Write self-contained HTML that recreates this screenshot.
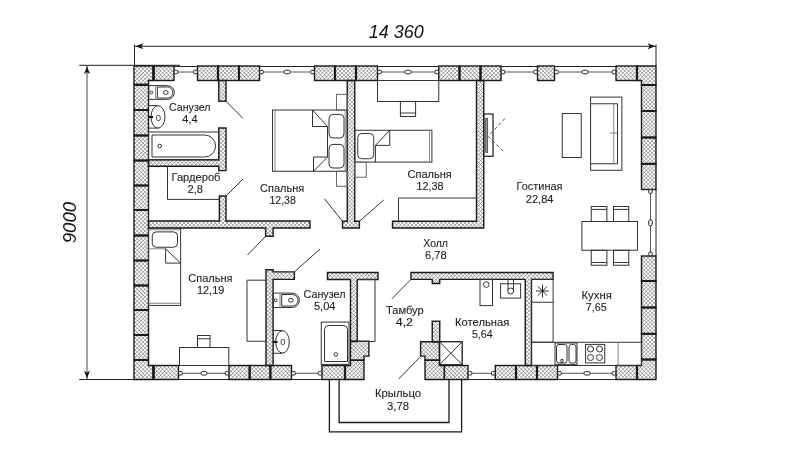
<!DOCTYPE html>
<html><head><meta charset="utf-8"><style>
html,body{margin:0;padding:0;background:#fff;}
svg{display:block;will-change:transform;}
.w{fill:none;stroke:#1a1a1a;stroke-width:1.4;stroke-linejoin:miter;}
.sep{fill:none;stroke:#1a1a1a;stroke-width:2.2;}
.f{fill:none;stroke:#333;stroke-width:1.0;}
.fn{fill:none;stroke:#666;stroke-width:1;}
.fg{fill:none;stroke:#777;stroke-width:0.9;}
.p{fill:none;stroke:#1a1a1a;stroke-width:1.3;}
.d{fill:none;stroke:#222;stroke-width:1;}
.dv{fill:none;stroke:#666;stroke-width:1.2;}
.dl{fill:none;stroke:#333;stroke-width:1;}
.wl{fill:none;stroke:#222;stroke-width:1;}
.wm{fill:none;stroke:#555;stroke-width:1;}
.wf{fill:#fff;stroke:#222;stroke-width:1;}
.ar{fill:#111;stroke:none;}
.bx{fill:none;stroke:#1a1a1a;stroke-width:1.3;}
.tv{fill:#999;stroke:#333;stroke-width:0.7;}
.bx2{fill:none;stroke:#1a1a1a;stroke-width:1.2;}
.dash{fill:none;stroke:#444;stroke-width:0.9;stroke-dasharray:3.5,2.5;}
.t{font-family:"Liberation Sans",sans-serif;font-size:10px;fill:#1e1e1e;stroke:#1e1e1e;stroke-width:0.1;}
.s{font-family:"Liberation Sans",sans-serif;font-size:9.5px;fill:#333;text-anchor:middle;}
.dim{font-family:"Liberation Sans",sans-serif;font-style:italic;font-size:18.5px;fill:#111;}
</style></head><body>
<svg width="800" height="450" viewBox="0 0 800 450">
<rect x="0" y="0" width="800" height="450" fill="#fff"/>
<clipPath id="wc"><rect x="154" y="66" width="20" height="14.5"/>
<rect x="197.5" y="66" width="20.5" height="14.5"/>
<rect x="218" y="66" width="21" height="14.5"/>
<rect x="239" y="66" width="20.5" height="14.5"/>
<rect x="314.5" y="66" width="20.5" height="14.5"/>
<rect x="335" y="66" width="21" height="14.5"/>
<rect x="356" y="66" width="21.5" height="14.5"/>
<rect x="438.75" y="66" width="20.75" height="14.5"/>
<rect x="459.5" y="66" width="21.0" height="14.5"/>
<rect x="480.5" y="66" width="20.5" height="14.5"/>
<rect x="537.5" y="66" width="17.0" height="14.5"/>
<rect x="616" y="66" width="21" height="14.5"/>
<polygon points="134,66 153,66 153,80.5 148.5,80.5 148.5,84.5 134,84.5"/>
<polygon points="637,66 656,66 656,85 641.5,85 641.5,80.5 637,80.5"/>
<polygon points="134,360 148.5,360 148.5,365.5 153,365.5 153,379.5 134,379.5"/>
<polygon points="641.5,359.5 656,359.5 656,379.5 637,379.5 637,365.5 641.5,365.5"/>
<rect x="134" y="85" width="14.5" height="25"/>
<rect x="134" y="110" width="14.5" height="25.5"/>
<rect x="134" y="135.5" width="14.5" height="25.0"/>
<rect x="134" y="160.5" width="14.5" height="25.0"/>
<rect x="134" y="185.5" width="14.5" height="24.5"/>
<rect x="134" y="210" width="14.5" height="25.5"/>
<rect x="134" y="235.5" width="14.5" height="25.0"/>
<rect x="134" y="260.5" width="14.5" height="25.0"/>
<rect x="134" y="285.5" width="14.5" height="24.5"/>
<rect x="134" y="310" width="14.5" height="25"/>
<rect x="134" y="335" width="14.5" height="25"/>
<rect x="641.5" y="85" width="14.5" height="26"/>
<rect x="641.5" y="111" width="14.5" height="26.5"/>
<rect x="641.5" y="137.5" width="14.5" height="26.25"/>
<rect x="641.5" y="163.75" width="14.5" height="25.75"/>
<rect x="641.5" y="256" width="14.5" height="25"/>
<rect x="641.5" y="281" width="14.5" height="26.5"/>
<rect x="641.5" y="307.5" width="14.5" height="26.25"/>
<rect x="641.5" y="333.75" width="14.5" height="25.75"/>
<rect x="154" y="365.5" width="24.5" height="14.0"/>
<rect x="229" y="365.5" width="20.6" height="14.0"/>
<rect x="249.6" y="365.5" width="20.8" height="14.0"/>
<rect x="270.4" y="365.5" width="21.1" height="14.0"/>
<rect x="322" y="365.5" width="23" height="14.0"/>
<rect x="495.3" y="365.5" width="20.7" height="14.0"/>
<rect x="516" y="365.5" width="21" height="14.0"/>
<rect x="537" y="365.5" width="20.5" height="14.0"/>
<rect x="616" y="365.5" width="21" height="14.0"/>
<rect x="218.75" y="80.5" width="7.25" height="20.75"/>
<polygon points="218.75,128 226,128 226,170.6 218.75,170.6 218.75,166.25 148.5,166.25 148.5,159.75 218.75,159.75"/>
<polygon points="148.5,221 219.4,221 219.4,196 226,196 226,221 310,221 310,228 273.1,228 273.1,236.25 265.6,236.25 265.6,228 148.5,228"/>
<polygon points="347.25,80.5 354.75,80.5 354.75,221.25 359.4,221.25 359.4,228 342.5,228 342.5,221.25 347.25,221.25"/>
<polygon points="392.5,221.25 476.5,221.25 476.5,80.5 483.75,80.5 483.75,228 392.5,228"/>
<polygon points="266,269.75 273.1,269.75 273.1,271.9 294.4,271.9 294.4,279.4 273.1,279.4 273.1,365.5 266,365.5"/>
<polygon points="327.5,272.5 378,272.5 378,279.5 357.2,279.5 357.2,341.5 350.5,341.5 350.5,279.5 327.5,279.5"/>
<polygon points="411,272.5 553.1,272.5 553.1,279.4 531.5,279.4 531.5,365.5 525.25,365.5 525.25,279.4 439.75,279.4 439.75,283.5 432.25,283.5 432.25,279.4 411,279.4"/>
<rect x="432.25" y="321.25" width="7.5" height="20.65"/>
<polygon points="350.5,341.2 368.9,341.2 368.9,356.1 364,356.1 364,360.3 350.5,360.3"/>
<polygon points="350.5,360.3 364,360.3 364,379.5 345,379.5 345,365.5 350.5,365.5"/>
<polygon points="420.6,341.7 439.5,341.7 439.5,360.3 425,360.3 425,356.1 420.6,356.1"/>
<polygon points="425,360.3 439.5,360.3 439.5,365.5 444.4,365.5 444.4,379.5 425,379.5"/>
<rect x="444.4" y="365.5" width="23.6" height="14.0"/></clipPath><g clip-path="url(#wc)"><rect x="0" y="0" width="800" height="450" fill="#fff"/><path d="M-312.00,0 L138.00,450 M-312.00,450 L138.00,0 M-308.10,0 L141.90,450 M-308.10,450 L141.90,0 M-304.20,0 L145.80,450 M-304.20,450 L145.80,0 M-300.30,0 L149.70,450 M-300.30,450 L149.70,0 M-296.40,0 L153.60,450 M-296.40,450 L153.60,0 M-292.50,0 L157.50,450 M-292.50,450 L157.50,0 M-288.60,0 L161.40,450 M-288.60,450 L161.40,0 M-284.70,0 L165.30,450 M-284.70,450 L165.30,0 M-280.80,0 L169.20,450 M-280.80,450 L169.20,0 M-276.90,0 L173.10,450 M-276.90,450 L173.10,0 M-273.00,0 L177.00,450 M-273.00,450 L177.00,0 M-269.10,0 L180.90,450 M-269.10,450 L180.90,0 M-265.20,0 L184.80,450 M-265.20,450 L184.80,0 M-261.30,0 L188.70,450 M-261.30,450 L188.70,0 M-257.40,0 L192.60,450 M-257.40,450 L192.60,0 M-253.50,0 L196.50,450 M-253.50,450 L196.50,0 M-249.60,0 L200.40,450 M-249.60,450 L200.40,0 M-245.70,0 L204.30,450 M-245.70,450 L204.30,0 M-241.80,0 L208.20,450 M-241.80,450 L208.20,0 M-237.90,0 L212.10,450 M-237.90,450 L212.10,0 M-234.00,0 L216.00,450 M-234.00,450 L216.00,0 M-230.10,0 L219.90,450 M-230.10,450 L219.90,0 M-226.20,0 L223.80,450 M-226.20,450 L223.80,0 M-222.30,0 L227.70,450 M-222.30,450 L227.70,0 M-218.40,0 L231.60,450 M-218.40,450 L231.60,0 M-214.50,0 L235.50,450 M-214.50,450 L235.50,0 M-210.60,0 L239.40,450 M-210.60,450 L239.40,0 M-206.70,0 L243.30,450 M-206.70,450 L243.30,0 M-202.80,0 L247.20,450 M-202.80,450 L247.20,0 M-198.90,0 L251.10,450 M-198.90,450 L251.10,0 M-195.00,0 L255.00,450 M-195.00,450 L255.00,0 M-191.10,0 L258.90,450 M-191.10,450 L258.90,0 M-187.20,0 L262.80,450 M-187.20,450 L262.80,0 M-183.30,0 L266.70,450 M-183.30,450 L266.70,0 M-179.40,0 L270.60,450 M-179.40,450 L270.60,0 M-175.50,0 L274.50,450 M-175.50,450 L274.50,0 M-171.60,0 L278.40,450 M-171.60,450 L278.40,0 M-167.70,0 L282.30,450 M-167.70,450 L282.30,0 M-163.80,0 L286.20,450 M-163.80,450 L286.20,0 M-159.90,0 L290.10,450 M-159.90,450 L290.10,0 M-156.00,0 L294.00,450 M-156.00,450 L294.00,0 M-152.10,0 L297.90,450 M-152.10,450 L297.90,0 M-148.20,0 L301.80,450 M-148.20,450 L301.80,0 M-144.30,0 L305.70,450 M-144.30,450 L305.70,0 M-140.40,0 L309.60,450 M-140.40,450 L309.60,0 M-136.50,0 L313.50,450 M-136.50,450 L313.50,0 M-132.60,0 L317.40,450 M-132.60,450 L317.40,0 M-128.70,0 L321.30,450 M-128.70,450 L321.30,0 M-124.80,0 L325.20,450 M-124.80,450 L325.20,0 M-120.90,0 L329.10,450 M-120.90,450 L329.10,0 M-117.00,0 L333.00,450 M-117.00,450 L333.00,0 M-113.10,0 L336.90,450 M-113.10,450 L336.90,0 M-109.20,0 L340.80,450 M-109.20,450 L340.80,0 M-105.30,0 L344.70,450 M-105.30,450 L344.70,0 M-101.40,0 L348.60,450 M-101.40,450 L348.60,0 M-97.50,0 L352.50,450 M-97.50,450 L352.50,0 M-93.60,0 L356.40,450 M-93.60,450 L356.40,0 M-89.70,0 L360.30,450 M-89.70,450 L360.30,0 M-85.80,0 L364.20,450 M-85.80,450 L364.20,0 M-81.90,0 L368.10,450 M-81.90,450 L368.10,0 M-78.00,0 L372.00,450 M-78.00,450 L372.00,0 M-74.10,0 L375.90,450 M-74.10,450 L375.90,0 M-70.20,0 L379.80,450 M-70.20,450 L379.80,0 M-66.30,0 L383.70,450 M-66.30,450 L383.70,0 M-62.40,0 L387.60,450 M-62.40,450 L387.60,0 M-58.50,0 L391.50,450 M-58.50,450 L391.50,0 M-54.60,0 L395.40,450 M-54.60,450 L395.40,0 M-50.70,0 L399.30,450 M-50.70,450 L399.30,0 M-46.80,0 L403.20,450 M-46.80,450 L403.20,0 M-42.90,0 L407.10,450 M-42.90,450 L407.10,0 M-39.00,0 L411.00,450 M-39.00,450 L411.00,0 M-35.10,0 L414.90,450 M-35.10,450 L414.90,0 M-31.20,0 L418.80,450 M-31.20,450 L418.80,0 M-27.30,0 L422.70,450 M-27.30,450 L422.70,0 M-23.40,0 L426.60,450 M-23.40,450 L426.60,0 M-19.50,0 L430.50,450 M-19.50,450 L430.50,0 M-15.60,0 L434.40,450 M-15.60,450 L434.40,0 M-11.70,0 L438.30,450 M-11.70,450 L438.30,0 M-7.80,0 L442.20,450 M-7.80,450 L442.20,0 M-3.90,0 L446.10,450 M-3.90,450 L446.10,0 M0.00,0 L450.00,450 M0.00,450 L450.00,0 M3.90,0 L453.90,450 M3.90,450 L453.90,0 M7.80,0 L457.80,450 M7.80,450 L457.80,0 M11.70,0 L461.70,450 M11.70,450 L461.70,0 M15.60,0 L465.60,450 M15.60,450 L465.60,0 M19.50,0 L469.50,450 M19.50,450 L469.50,0 M23.40,0 L473.40,450 M23.40,450 L473.40,0 M27.30,0 L477.30,450 M27.30,450 L477.30,0 M31.20,0 L481.20,450 M31.20,450 L481.20,0 M35.10,0 L485.10,450 M35.10,450 L485.10,0 M39.00,0 L489.00,450 M39.00,450 L489.00,0 M42.90,0 L492.90,450 M42.90,450 L492.90,0 M46.80,0 L496.80,450 M46.80,450 L496.80,0 M50.70,0 L500.70,450 M50.70,450 L500.70,0 M54.60,0 L504.60,450 M54.60,450 L504.60,0 M58.50,0 L508.50,450 M58.50,450 L508.50,0 M62.40,0 L512.40,450 M62.40,450 L512.40,0 M66.30,0 L516.30,450 M66.30,450 L516.30,0 M70.20,0 L520.20,450 M70.20,450 L520.20,0 M74.10,0 L524.10,450 M74.10,450 L524.10,0 M78.00,0 L528.00,450 M78.00,450 L528.00,0 M81.90,0 L531.90,450 M81.90,450 L531.90,0 M85.80,0 L535.80,450 M85.80,450 L535.80,0 M89.70,0 L539.70,450 M89.70,450 L539.70,0 M93.60,0 L543.60,450 M93.60,450 L543.60,0 M97.50,0 L547.50,450 M97.50,450 L547.50,0 M101.40,0 L551.40,450 M101.40,450 L551.40,0 M105.30,0 L555.30,450 M105.30,450 L555.30,0 M109.20,0 L559.20,450 M109.20,450 L559.20,0 M113.10,0 L563.10,450 M113.10,450 L563.10,0 M117.00,0 L567.00,450 M117.00,450 L567.00,0 M120.90,0 L570.90,450 M120.90,450 L570.90,0 M124.80,0 L574.80,450 M124.80,450 L574.80,0 M128.70,0 L578.70,450 M128.70,450 L578.70,0 M132.60,0 L582.60,450 M132.60,450 L582.60,0 M136.50,0 L586.50,450 M136.50,450 L586.50,0 M140.40,0 L590.40,450 M140.40,450 L590.40,0 M144.30,0 L594.30,450 M144.30,450 L594.30,0 M148.20,0 L598.20,450 M148.20,450 L598.20,0 M152.10,0 L602.10,450 M152.10,450 L602.10,0 M156.00,0 L606.00,450 M156.00,450 L606.00,0 M159.90,0 L609.90,450 M159.90,450 L609.90,0 M163.80,0 L613.80,450 M163.80,450 L613.80,0 M167.70,0 L617.70,450 M167.70,450 L617.70,0 M171.60,0 L621.60,450 M171.60,450 L621.60,0 M175.50,0 L625.50,450 M175.50,450 L625.50,0 M179.40,0 L629.40,450 M179.40,450 L629.40,0 M183.30,0 L633.30,450 M183.30,450 L633.30,0 M187.20,0 L637.20,450 M187.20,450 L637.20,0 M191.10,0 L641.10,450 M191.10,450 L641.10,0 M195.00,0 L645.00,450 M195.00,450 L645.00,0 M198.90,0 L648.90,450 M198.90,450 L648.90,0 M202.80,0 L652.80,450 M202.80,450 L652.80,0 M206.70,0 L656.70,450 M206.70,450 L656.70,0 M210.60,0 L660.60,450 M210.60,450 L660.60,0 M214.50,0 L664.50,450 M214.50,450 L664.50,0 M218.40,0 L668.40,450 M218.40,450 L668.40,0 M222.30,0 L672.30,450 M222.30,450 L672.30,0 M226.20,0 L676.20,450 M226.20,450 L676.20,0 M230.10,0 L680.10,450 M230.10,450 L680.10,0 M234.00,0 L684.00,450 M234.00,450 L684.00,0 M237.90,0 L687.90,450 M237.90,450 L687.90,0 M241.80,0 L691.80,450 M241.80,450 L691.80,0 M245.70,0 L695.70,450 M245.70,450 L695.70,0 M249.60,0 L699.60,450 M249.60,450 L699.60,0 M253.50,0 L703.50,450 M253.50,450 L703.50,0 M257.40,0 L707.40,450 M257.40,450 L707.40,0 M261.30,0 L711.30,450 M261.30,450 L711.30,0 M265.20,0 L715.20,450 M265.20,450 L715.20,0 M269.10,0 L719.10,450 M269.10,450 L719.10,0 M273.00,0 L723.00,450 M273.00,450 L723.00,0 M276.90,0 L726.90,450 M276.90,450 L726.90,0 M280.80,0 L730.80,450 M280.80,450 L730.80,0 M284.70,0 L734.70,450 M284.70,450 L734.70,0 M288.60,0 L738.60,450 M288.60,450 L738.60,0 M292.50,0 L742.50,450 M292.50,450 L742.50,0 M296.40,0 L746.40,450 M296.40,450 L746.40,0 M300.30,0 L750.30,450 M300.30,450 L750.30,0 M304.20,0 L754.20,450 M304.20,450 L754.20,0 M308.10,0 L758.10,450 M308.10,450 L758.10,0 M312.00,0 L762.00,450 M312.00,450 L762.00,0 M315.90,0 L765.90,450 M315.90,450 L765.90,0 M319.80,0 L769.80,450 M319.80,450 L769.80,0 M323.70,0 L773.70,450 M323.70,450 L773.70,0 M327.60,0 L777.60,450 M327.60,450 L777.60,0 M331.50,0 L781.50,450 M331.50,450 L781.50,0 M335.40,0 L785.40,450 M335.40,450 L785.40,0 M339.30,0 L789.30,450 M339.30,450 L789.30,0 M343.20,0 L793.20,450 M343.20,450 L793.20,0 M347.10,0 L797.10,450 M347.10,450 L797.10,0 M351.00,0 L801.00,450 M351.00,450 L801.00,0 M354.90,0 L804.90,450 M354.90,450 L804.90,0 M358.80,0 L808.80,450 M358.80,450 L808.80,0 M362.70,0 L812.70,450 M362.70,450 L812.70,0 M366.60,0 L816.60,450 M366.60,450 L816.60,0 M370.50,0 L820.50,450 M370.50,450 L820.50,0 M374.40,0 L824.40,450 M374.40,450 L824.40,0 M378.30,0 L828.30,450 M378.30,450 L828.30,0 M382.20,0 L832.20,450 M382.20,450 L832.20,0 M386.10,0 L836.10,450 M386.10,450 L836.10,0 M390.00,0 L840.00,450 M390.00,450 L840.00,0 M393.90,0 L843.90,450 M393.90,450 L843.90,0 M397.80,0 L847.80,450 M397.80,450 L847.80,0 M401.70,0 L851.70,450 M401.70,450 L851.70,0 M405.60,0 L855.60,450 M405.60,450 L855.60,0 M409.50,0 L859.50,450 M409.50,450 L859.50,0 M413.40,0 L863.40,450 M413.40,450 L863.40,0 M417.30,0 L867.30,450 M417.30,450 L867.30,0 M421.20,0 L871.20,450 M421.20,450 L871.20,0 M425.10,0 L875.10,450 M425.10,450 L875.10,0 M429.00,0 L879.00,450 M429.00,450 L879.00,0 M432.90,0 L882.90,450 M432.90,450 L882.90,0 M436.80,0 L886.80,450 M436.80,450 L886.80,0 M440.70,0 L890.70,450 M440.70,450 L890.70,0 M444.60,0 L894.60,450 M444.60,450 L894.60,0 M448.50,0 L898.50,450 M448.50,450 L898.50,0 M452.40,0 L902.40,450 M452.40,450 L902.40,0 M456.30,0 L906.30,450 M456.30,450 L906.30,0 M460.20,0 L910.20,450 M460.20,450 L910.20,0 M464.10,0 L914.10,450 M464.10,450 L914.10,0 M468.00,0 L918.00,450 M468.00,450 L918.00,0 M471.90,0 L921.90,450 M471.90,450 L921.90,0 M475.80,0 L925.80,450 M475.80,450 L925.80,0 M479.70,0 L929.70,450 M479.70,450 L929.70,0 M483.60,0 L933.60,450 M483.60,450 L933.60,0 M487.50,0 L937.50,450 M487.50,450 L937.50,0 M491.40,0 L941.40,450 M491.40,450 L941.40,0 M495.30,0 L945.30,450 M495.30,450 L945.30,0 M499.20,0 L949.20,450 M499.20,450 L949.20,0 M503.10,0 L953.10,450 M503.10,450 L953.10,0 M507.00,0 L957.00,450 M507.00,450 L957.00,0 M510.90,0 L960.90,450 M510.90,450 L960.90,0 M514.80,0 L964.80,450 M514.80,450 L964.80,0 M518.70,0 L968.70,450 M518.70,450 L968.70,0 M522.60,0 L972.60,450 M522.60,450 L972.60,0 M526.50,0 L976.50,450 M526.50,450 L976.50,0 M530.40,0 L980.40,450 M530.40,450 L980.40,0 M534.30,0 L984.30,450 M534.30,450 L984.30,0 M538.20,0 L988.20,450 M538.20,450 L988.20,0 M542.10,0 L992.10,450 M542.10,450 L992.10,0 M546.00,0 L996.00,450 M546.00,450 L996.00,0 M549.90,0 L999.90,450 M549.90,450 L999.90,0 M553.80,0 L1003.80,450 M553.80,450 L1003.80,0 M557.70,0 L1007.70,450 M557.70,450 L1007.70,0 M561.60,0 L1011.60,450 M561.60,450 L1011.60,0 M565.50,0 L1015.50,450 M565.50,450 L1015.50,0 M569.40,0 L1019.40,450 M569.40,450 L1019.40,0 M573.30,0 L1023.30,450 M573.30,450 L1023.30,0 M577.20,0 L1027.20,450 M577.20,450 L1027.20,0 M581.10,0 L1031.10,450 M581.10,450 L1031.10,0 M585.00,0 L1035.00,450 M585.00,450 L1035.00,0 M588.90,0 L1038.90,450 M588.90,450 L1038.90,0 M592.80,0 L1042.80,450 M592.80,450 L1042.80,0 M596.70,0 L1046.70,450 M596.70,450 L1046.70,0 M600.60,0 L1050.60,450 M600.60,450 L1050.60,0 M604.50,0 L1054.50,450 M604.50,450 L1054.50,0 M608.40,0 L1058.40,450 M608.40,450 L1058.40,0 M612.30,0 L1062.30,450 M612.30,450 L1062.30,0 M616.20,0 L1066.20,450 M616.20,450 L1066.20,0" stroke="#4d4d4d" stroke-width="0.5" fill="none"/></g><g class="w"><rect x="154" y="66" width="20" height="14.5"/>
<rect x="197.5" y="66" width="20.5" height="14.5"/>
<rect x="218" y="66" width="21" height="14.5"/>
<rect x="239" y="66" width="20.5" height="14.5"/>
<rect x="314.5" y="66" width="20.5" height="14.5"/>
<rect x="335" y="66" width="21" height="14.5"/>
<rect x="356" y="66" width="21.5" height="14.5"/>
<rect x="438.75" y="66" width="20.75" height="14.5"/>
<rect x="459.5" y="66" width="21.0" height="14.5"/>
<rect x="480.5" y="66" width="20.5" height="14.5"/>
<rect x="537.5" y="66" width="17.0" height="14.5"/>
<rect x="616" y="66" width="21" height="14.5"/>
<polygon points="134,66 153,66 153,80.5 148.5,80.5 148.5,84.5 134,84.5"/>
<polygon points="637,66 656,66 656,85 641.5,85 641.5,80.5 637,80.5"/>
<polygon points="134,360 148.5,360 148.5,365.5 153,365.5 153,379.5 134,379.5"/>
<polygon points="641.5,359.5 656,359.5 656,379.5 637,379.5 637,365.5 641.5,365.5"/>
<rect x="134" y="85" width="14.5" height="25"/>
<rect x="134" y="110" width="14.5" height="25.5"/>
<rect x="134" y="135.5" width="14.5" height="25.0"/>
<rect x="134" y="160.5" width="14.5" height="25.0"/>
<rect x="134" y="185.5" width="14.5" height="24.5"/>
<rect x="134" y="210" width="14.5" height="25.5"/>
<rect x="134" y="235.5" width="14.5" height="25.0"/>
<rect x="134" y="260.5" width="14.5" height="25.0"/>
<rect x="134" y="285.5" width="14.5" height="24.5"/>
<rect x="134" y="310" width="14.5" height="25"/>
<rect x="134" y="335" width="14.5" height="25"/>
<rect x="641.5" y="85" width="14.5" height="26"/>
<rect x="641.5" y="111" width="14.5" height="26.5"/>
<rect x="641.5" y="137.5" width="14.5" height="26.25"/>
<rect x="641.5" y="163.75" width="14.5" height="25.75"/>
<rect x="641.5" y="256" width="14.5" height="25"/>
<rect x="641.5" y="281" width="14.5" height="26.5"/>
<rect x="641.5" y="307.5" width="14.5" height="26.25"/>
<rect x="641.5" y="333.75" width="14.5" height="25.75"/>
<rect x="154" y="365.5" width="24.5" height="14.0"/>
<rect x="229" y="365.5" width="20.6" height="14.0"/>
<rect x="249.6" y="365.5" width="20.8" height="14.0"/>
<rect x="270.4" y="365.5" width="21.1" height="14.0"/>
<rect x="322" y="365.5" width="23" height="14.0"/>
<rect x="495.3" y="365.5" width="20.7" height="14.0"/>
<rect x="516" y="365.5" width="21" height="14.0"/>
<rect x="537" y="365.5" width="20.5" height="14.0"/>
<rect x="616" y="365.5" width="21" height="14.0"/>
<rect x="218.75" y="80.5" width="7.25" height="20.75"/>
<polygon points="218.75,128 226,128 226,170.6 218.75,170.6 218.75,166.25 148.5,166.25 148.5,159.75 218.75,159.75"/>
<polygon points="148.5,221 219.4,221 219.4,196 226,196 226,221 310,221 310,228 273.1,228 273.1,236.25 265.6,236.25 265.6,228 148.5,228"/>
<polygon points="347.25,80.5 354.75,80.5 354.75,221.25 359.4,221.25 359.4,228 342.5,228 342.5,221.25 347.25,221.25"/>
<polygon points="392.5,221.25 476.5,221.25 476.5,80.5 483.75,80.5 483.75,228 392.5,228"/>
<polygon points="266,269.75 273.1,269.75 273.1,271.9 294.4,271.9 294.4,279.4 273.1,279.4 273.1,365.5 266,365.5"/>
<polygon points="327.5,272.5 378,272.5 378,279.5 357.2,279.5 357.2,341.5 350.5,341.5 350.5,279.5 327.5,279.5"/>
<polygon points="411,272.5 553.1,272.5 553.1,279.4 531.5,279.4 531.5,365.5 525.25,365.5 525.25,279.4 439.75,279.4 439.75,283.5 432.25,283.5 432.25,279.4 411,279.4"/>
<rect x="432.25" y="321.25" width="7.5" height="20.65"/>
<polygon points="350.5,341.2 368.9,341.2 368.9,356.1 364,356.1 364,360.3 350.5,360.3"/>
<polygon points="350.5,360.3 364,360.3 364,379.5 345,379.5 345,365.5 350.5,365.5"/>
<polygon points="420.6,341.7 439.5,341.7 439.5,360.3 425,360.3 425,356.1 420.6,356.1"/>
<polygon points="425,360.3 439.5,360.3 439.5,365.5 444.4,365.5 444.4,379.5 425,379.5"/>
<rect x="444.4" y="365.5" width="23.6" height="14.0"/></g><path class="sep" d="M134,84.9 H148.5 M134,110 H148.5 M134,135.5 H148.5 M134,160.5 H148.5 M134,185.5 H148.5 M134,210 H148.5 M134,235.5 H148.5 M134,260.5 H148.5 M134,285.5 H148.5 M134,310 H148.5 M134,335 H148.5 M134,360 H148.5 M641.5,85 H656 M641.5,111 H656 M641.5,137.5 H656 M641.5,163.75 H656 M641.5,281 H656 M641.5,307.5 H656 M641.5,333.75 H656 M641.5,359.5 H656 M153.5,66 V80.5 M218,66 V80.5 M239,66 V80.5 M335,66 V80.5 M356,66 V80.5 M459.5,66 V80.5 M480.5,66 V80.5 M637,66 V80.5 M153.5,365.5 V379.5 M249.6,365.5 V379.5 M270.4,365.5 V379.5 M345,365.5 V379.5 M516,365.5 V379.5 M537,365.5 V379.5 M637,365.5 V379.5"/><line class="d" x1="134.5" y1="46.3" x2="656" y2="46.3"/>
<line class="d" x1="134.5" y1="44.5" x2="134.5" y2="66"/>
<line class="d" x1="656" y1="44.5" x2="656" y2="66"/>
<polygon class="ar" points="135.5,46.3 143.5,49.3 141.3,46.3 143.5,43.3"/>
<polygon class="ar" points="655.5,46.3 647.5,43.3 649.7,46.3 647.5,49.3"/>
<line class="dv" x1="87" y1="66" x2="87" y2="379.5"/>
<line class="d" x1="79.2" y1="65.3" x2="180" y2="65.3"/>
<line class="d" x1="79.2" y1="379.5" x2="134" y2="379.5"/>
<polygon class="ar" points="87,66.3 84,74.3 87.0,72.1 90,74.3"/>
<polygon class="ar" points="87,378.5 90,370.5 87.0,372.7 84,370.5"/>
<text class="dim" x="368.7" y="37.7" textLength="55" lengthAdjust="spacingAndGlyphs">14 360</text>
<text class="dim" transform="translate(76.3,243.3) rotate(-90)" textLength="41.5" lengthAdjust="spacingAndGlyphs">9000</text>
<line class="wl" x1="174" y1="66.5" x2="197.5" y2="66.5"/>
<line class="wm" x1="174" y1="72" x2="197.5" y2="72"/>
<rect class="wf" x="174.2" y="70.25" width="3.6" height="3.5" rx="1"/>
<rect class="wf" x="193.7" y="70.25" width="3.6" height="3.5" rx="1"/>
<line class="wl" x1="259.5" y1="66.5" x2="314.5" y2="66.5"/>
<line class="wm" x1="259.5" y1="72" x2="314.5" y2="72"/>
<rect class="wf" x="259.7" y="70.25" width="3.6" height="3.5" rx="1"/>
<rect class="wf" x="310.7" y="70.25" width="3.6" height="3.5" rx="1"/>
<rect class="wf" x="284.1" y="70.25" width="6.0" height="3.5" rx="1.5"/>
<line class="wl" x1="377.5" y1="66.5" x2="438.75" y2="66.5"/>
<line class="wm" x1="377.5" y1="72" x2="438.75" y2="72"/>
<rect class="wf" x="377.7" y="70.25" width="3.6" height="3.5" rx="1"/>
<rect class="wf" x="434.95" y="70.25" width="3.6" height="3.5" rx="1"/>
<rect class="wf" x="405" y="70.25" width="6" height="3.5" rx="1.5"/>
<line class="wl" x1="501" y1="66.5" x2="537.5" y2="66.5"/>
<line class="wm" x1="501" y1="72" x2="537.5" y2="72"/>
<rect class="wf" x="501.2" y="70.25" width="3.6" height="3.5" rx="1"/>
<rect class="wf" x="533.7" y="70.25" width="3.6" height="3.5" rx="1"/>
<line class="wl" x1="554.5" y1="66.5" x2="616" y2="66.5"/>
<line class="wm" x1="554.5" y1="72" x2="616" y2="72"/>
<rect class="wf" x="554.7" y="70.25" width="3.6" height="3.5" rx="1"/>
<rect class="wf" x="612.2" y="70.25" width="3.6" height="3.5" rx="1"/>
<rect class="wf" x="582" y="70.25" width="6" height="3.5" rx="1.5"/>
<line class="wl" x1="178.5" y1="379.5" x2="229" y2="379.5"/>
<line class="wm" x1="178.5" y1="373.3" x2="229" y2="373.3"/>
<rect class="wf" x="178.7" y="371.55" width="3.6" height="3.5" rx="1"/>
<rect class="wf" x="225.2" y="371.55" width="3.6" height="3.5" rx="1"/>
<rect class="wf" x="201" y="371.55" width="6" height="3.5" rx="1.5"/>
<line class="wl" x1="291.5" y1="379.5" x2="322" y2="379.5"/>
<line class="wm" x1="291.5" y1="373.3" x2="322" y2="373.3"/>
<rect class="wf" x="291.7" y="371.55" width="3.6" height="3.5" rx="1"/>
<rect class="wf" x="318.2" y="371.55" width="3.6" height="3.5" rx="1"/>
<line class="wl" x1="468" y1="379.5" x2="495.3" y2="379.5"/>
<line class="wm" x1="468" y1="373.3" x2="495.3" y2="373.3"/>
<rect class="wf" x="468.2" y="371.55" width="3.6" height="3.5" rx="1"/>
<rect class="wf" x="491.5" y="371.55" width="3.6" height="3.5" rx="1"/>
<line class="wl" x1="557.5" y1="379.5" x2="616" y2="379.5"/>
<line class="wm" x1="557.5" y1="373.3" x2="616" y2="373.3"/>
<rect class="wf" x="557.7" y="371.55" width="3.6" height="3.5" rx="1"/>
<rect class="wf" x="612.2" y="371.55" width="3.6" height="3.5" rx="1"/>
<rect class="wf" x="584" y="371.55" width="6" height="3.5" rx="1.5"/>
<line class="wl" x1="656" y1="189.5" x2="656" y2="256"/>
<line class="wm" x1="650.5" y1="189.5" x2="650.5" y2="256"/>
<rect class="wf" x="648.75" y="189.7" width="3.5" height="3.6" rx="1"/>
<rect class="wf" x="648.75" y="252.2" width="3.5" height="3.6" rx="1"/>
<rect class="wf" x="648.75" y="219.8" width="3.5" height="6.0" rx="1.5"/>
<polyline class="p" points="329.4,379.5 329.4,431.9 461.6,431.9 461.6,379.5"/>
<polyline class="p" points="339.1,379.5 339.1,422.5 449,422.5 449,379.5"/>
<line class="dl" x1="226" y1="101.25" x2="243" y2="118.5"/>
<line class="dl" x1="226" y1="196" x2="243" y2="179"/>
<line class="dl" x1="342.5" y1="221.25" x2="324.4" y2="198.75"/>
<line class="dl" x1="359.4" y1="221.25" x2="383.75" y2="200"/>
<line class="dl" x1="265.6" y1="236.25" x2="247.5" y2="255"/>
<line class="dl" x1="294.4" y1="271.9" x2="320" y2="249"/>
<line class="dl" x1="411" y1="279.4" x2="391.9" y2="298.75"/>
<line class="dl" x1="420.6" y1="356.5" x2="398.6" y2="379"/>
<path class="f" d="M148.75,85.6 H167.45 A6.90,6.90 0 0 1 167.45,99.40 H148.75 Z"/>
<path class="fg" d="M155.65,85.6 V99.40"/>
<path class="f" d="M157.35,87.00 H167.45 A5.50,5.50 0 0 1 167.45,98.00 H157.35 Z"/>
<ellipse class="f" cx="165.75" cy="92.50" rx="2.4" ry="1.9"/>
<circle class="f" cx="151.35" cy="92.5" r="1.4"/>
<path class="f" d="M148.5,105.6 H158 M148.5,128.1 H158"/>
<ellipse class="f" cx="158" cy="116.9" rx="7" ry="11.25"/>
<text class="s" x="158.4" y="121.3">0</text>
<path class="ar" d="M148.5,116 L153,116 L153,118 L148.5,118 Z"/>
<rect class="f" x="148.5" y="132" width="70.25" height="27.75"/>
<path class="f" d="M152,135 H204.6 A11,11 0 0 1 204.6,157 H152 Z"/>
<circle class="f" cx="159.7" cy="146" r="1.8"/>
<polyline class="f" points="167.5,166.25 167.5,199.4 219.4,199.4"/>
<rect class="f" x="272.5" y="110" width="74.75" height="61.25"/>
<line class="fg" x1="275" y1="110" x2="275" y2="171.25"/>
<polyline class="f" points="312.5,110 312.5,126.5 327.5,126.5 312.5,110"/>
<line class="f" x1="327.5" y1="126.5" x2="327.5" y2="157"/>
<polyline class="f" points="313.5,171.25 313.5,157 327.5,157 313.5,171.25"/>
<rect class="f" x="329" y="114.4" width="15" height="23.6" rx="4"/>
<rect class="f" x="329" y="144.4" width="15" height="23.6" rx="4"/>
<line class="fg" x1="345.2" y1="110" x2="345.2" y2="171.25"/>
<rect class="fn" x="336.5" y="94.4" width="10.75" height="15.6"/>
<rect class="fn" x="336.5" y="171.25" width="10.75" height="15.0"/>
<rect class="f" x="377.5" y="80.5" width="61.25" height="21.0"/>
<rect class="f" x="400.4" y="101.5" width="15.2" height="15.0"/>
<line class="f" x1="400.4" y1="113" x2="415.6" y2="113"/>
<rect class="f" x="354.75" y="130.25" width="77.15" height="31.85"/>
<line class="fg" x1="429.5" y1="130.25" x2="429.5" y2="162.1"/>
<rect class="f" x="357.75" y="133.5" width="16.0" height="25.25" rx="4"/>
<polyline class="f" points="375.4,162.1 375.4,145.4 389.75,145.4 389.75,130.25 375.4,145.4"/>
<rect class="fn" x="354.75" y="162.1" width="11.5" height="15.15"/>
<polyline class="f" points="398.5,221.25 398.5,198 476.5,198"/>
<rect class="bx2" x="483.75" y="114" width="9.25" height="42.3"/>
<rect class="tv" x="485.7" y="118.3" width="2.0" height="34.0"/>
<path class="dash" d="M505,118.3 L488.3,136.3 L503.7,151.7"/>
<rect class="f" x="562.25" y="113.5" width="19.0" height="44.0"/>
<rect class="f" x="590.6" y="97.1" width="31.3" height="73.15"/>
<polyline class="f" points="590.6,103.75 617.5,103.75 617.5,163.75 590.6,163.75"/>
<line class="fg" x1="613.75" y1="103.75" x2="613.75" y2="163.75"/>
<line class="fg" x1="610" y1="133" x2="617.5" y2="133"/>
<rect class="f" x="581.9" y="221.5" width="55.6" height="28.75"/>
<rect class="f" x="591.25" y="206.5" width="15.65" height="15.0"/>
<line class="f" x1="591.25" y1="209.4" x2="606.9" y2="209.4"/>
<rect class="f" x="591.25" y="250.25" width="15.65" height="15.0"/>
<line class="f" x1="591.25" y1="262.5" x2="606.9" y2="262.5"/>
<rect class="f" x="613.5" y="206.5" width="15.25" height="15.0"/>
<line class="f" x1="613.5" y1="209.4" x2="628.75" y2="209.4"/>
<rect class="f" x="613.5" y="250.25" width="15.25" height="15.0"/>
<line class="f" x1="613.5" y1="262.5" x2="628.75" y2="262.5"/>
<rect class="f" x="148.5" y="228" width="32.1" height="77.4"/>
<line class="fg" x1="148.5" y1="303.3" x2="180.6" y2="303.3"/>
<line class="fg" x1="148.5" y1="229.8" x2="180.6" y2="229.8"/>
<rect class="f" x="152.25" y="231.9" width="25.25" height="15.35" rx="4"/>
<line class="fg" x1="148.5" y1="248.75" x2="165.6" y2="248.75"/>
<polyline class="f" points="165.6,248.75 165.6,263.1 180.6,263.1 165.6,248.75"/>
<rect class="f" x="179.5" y="347.5" width="49.25" height="18.0"/>
<rect class="f" x="197.5" y="335.5" width="12.5" height="12.0"/>
<line class="f" x1="197.5" y1="338.75" x2="210" y2="338.75"/>
<polyline class="f" points="266,280.2 247,280.2 247,341.25 266,341.25"/>
<path class="f" d="M273.1,293.1 H292.20 A7.20,7.20 0 0 1 292.20,307.50 H273.1 Z"/>
<path class="fg" d="M280.00,293.1 V307.50"/>
<path class="f" d="M281.70,294.50 H292.20 A5.80,5.80 0 0 1 292.20,306.10 H281.70 Z"/>
<ellipse class="f" cx="290.80" cy="300.30" rx="2.4" ry="1.9"/>
<circle class="f" cx="275.7" cy="300.3" r="1.4"/>
<path class="f" d="M273.1,330.5 H282.5 M273.1,353.3 H282.5"/>
<ellipse class="f" cx="282.5" cy="341.9" rx="6.8" ry="11.2"/>
<text class="s" x="282.8" y="345.3">0</text>
<path class="ar" d="M273.1,340.9 L277.5,340.9 L277.5,342.9 L273.1,342.9 Z"/>
<rect class="f" x="321.25" y="322.1" width="27.75" height="42.3"/>
<path class="f" d="M328.5,325.5 H343.5 A4,4 0 0 1 347.5,329.5 V361.5 H324.5 V329.5 A4,4 0 0 1 328.5,325.5 Z"/>
<circle class="f" cx="335.8" cy="354.5" r="1.8"/>
<polyline class="f" points="357.2,279.5 375,279.5 375,341.5 357.2,341.5"/>
<rect class="f" x="480" y="279.4" width="12.5" height="26.2"/>
<circle class="f" cx="486.25" cy="284.5" r="2.8"/>
<rect class="f" x="500.6" y="283.75" width="20.0" height="14.35"/>
<path class="f" d="M508,279.4 V290 M513.5,279.4 V290"/>
<circle class="f" cx="510.7" cy="291" r="3"/>
<rect class="bx" x="439.5" y="341.7" width="22.7" height="23.1"/>
<path class="f" d="M439.5,341.7 L462.2,364.8 M462.2,341.7 L439.5,364.8"/>
<rect class="f" x="531.5" y="279.4" width="21.6" height="62.85"/>
<line class="f" x1="531.5" y1="302.25" x2="553.1" y2="302.25"/>
<path class="f" d="M536,291 H549 M542.5,284.5 V297.5 M537.9,286.4 L547.1,295.6 M547.1,286.4 L537.9,295.6"/>
<circle class="ar" cx="542.5" cy="291" r="0.9"/>
<rect class="f" x="531.5" y="342.25" width="110.0" height="23.25"/>
<rect class="f" x="555" y="343" width="22" height="21.4"/>
<rect class="f" x="556.5" y="344.5" width="10.5" height="18.5" rx="2.5"/>
<rect class="f" x="569" y="344.5" width="7" height="18.5" rx="2.5"/>
<path class="f" d="M561,363 V359.5 H563 V363"/>
<rect class="f" x="585.6" y="344.4" width="19.15" height="18.5"/>
<circle class="f" cx="590.5" cy="349" r="3"/>
<circle class="f" cx="590.5" cy="357.5" r="3"/>
<circle class="f" cx="599.5" cy="349" r="3"/>
<circle class="f" cx="599.5" cy="357.5" r="3"/>
<line class="fg" x1="618.1" y1="342.25" x2="618.1" y2="365.5"/>
<text class="t" x="169.0" y="110.5" textLength="41.5" lengthAdjust="spacingAndGlyphs">Санузел</text>
<text class="t" x="182.3" y="122.6" textLength="15.199999999999989" lengthAdjust="spacingAndGlyphs">4,4</text>
<text class="t" x="171.5" y="181.25" textLength="49" lengthAdjust="spacingAndGlyphs">Гардероб</text>
<text class="t" x="187.5" y="193.3" textLength="15.5" lengthAdjust="spacingAndGlyphs">2,8</text>
<text class="t" x="260.1" y="191.9" textLength="44.14999999999998" lengthAdjust="spacingAndGlyphs">Спальня</text>
<text class="t" x="269.5" y="204.3" textLength="26.25" lengthAdjust="spacingAndGlyphs">12,38</text>
<text class="t" x="407.5" y="178" textLength="44.25" lengthAdjust="spacingAndGlyphs">Спальня</text>
<text class="t" x="416.5" y="190" textLength="27" lengthAdjust="spacingAndGlyphs">12,38</text>
<text class="t" x="423.25" y="247" textLength="24.75" lengthAdjust="spacingAndGlyphs">Холл</text>
<text class="t" x="425.0" y="259.3" textLength="21.75" lengthAdjust="spacingAndGlyphs">6,78</text>
<text class="t" x="516.5" y="190" textLength="46" lengthAdjust="spacingAndGlyphs">Гостиная</text>
<text class="t" x="525.75" y="202.8" textLength="27.75" lengthAdjust="spacingAndGlyphs">22,84</text>
<text class="t" x="188.25" y="282" textLength="44.25" lengthAdjust="spacingAndGlyphs">Спальня</text>
<text class="t" x="197.0" y="294.3" textLength="27.25" lengthAdjust="spacingAndGlyphs">12,19</text>
<text class="t" x="303.5" y="298.1" textLength="42" lengthAdjust="spacingAndGlyphs">Санузел</text>
<text class="t" x="313.9" y="309.8" textLength="21.600000000000023" lengthAdjust="spacingAndGlyphs">5,04</text>
<text class="t" x="386.0" y="313.75" textLength="37.60000000000002" lengthAdjust="spacingAndGlyphs">Тамбур</text>
<text class="t" x="395.75" y="326" textLength="17.25" lengthAdjust="spacingAndGlyphs">4,2</text>
<text class="t" x="455.0" y="325.5" textLength="54.25" lengthAdjust="spacingAndGlyphs">Котельная</text>
<text class="t" x="472.0" y="337.8" textLength="20.5" lengthAdjust="spacingAndGlyphs">5,64</text>
<text class="t" x="581.5" y="298.75" textLength="30.25" lengthAdjust="spacingAndGlyphs">Кухня</text>
<text class="t" x="585.75" y="311" textLength="21.0" lengthAdjust="spacingAndGlyphs">7,65</text>
<text class="t" x="375.0" y="396.8" textLength="46.0" lengthAdjust="spacingAndGlyphs">Крыльцо</text>
<text class="t" x="387.0" y="409.5" textLength="22.0" lengthAdjust="spacingAndGlyphs">3,78</text>
</svg>
</body></html>
